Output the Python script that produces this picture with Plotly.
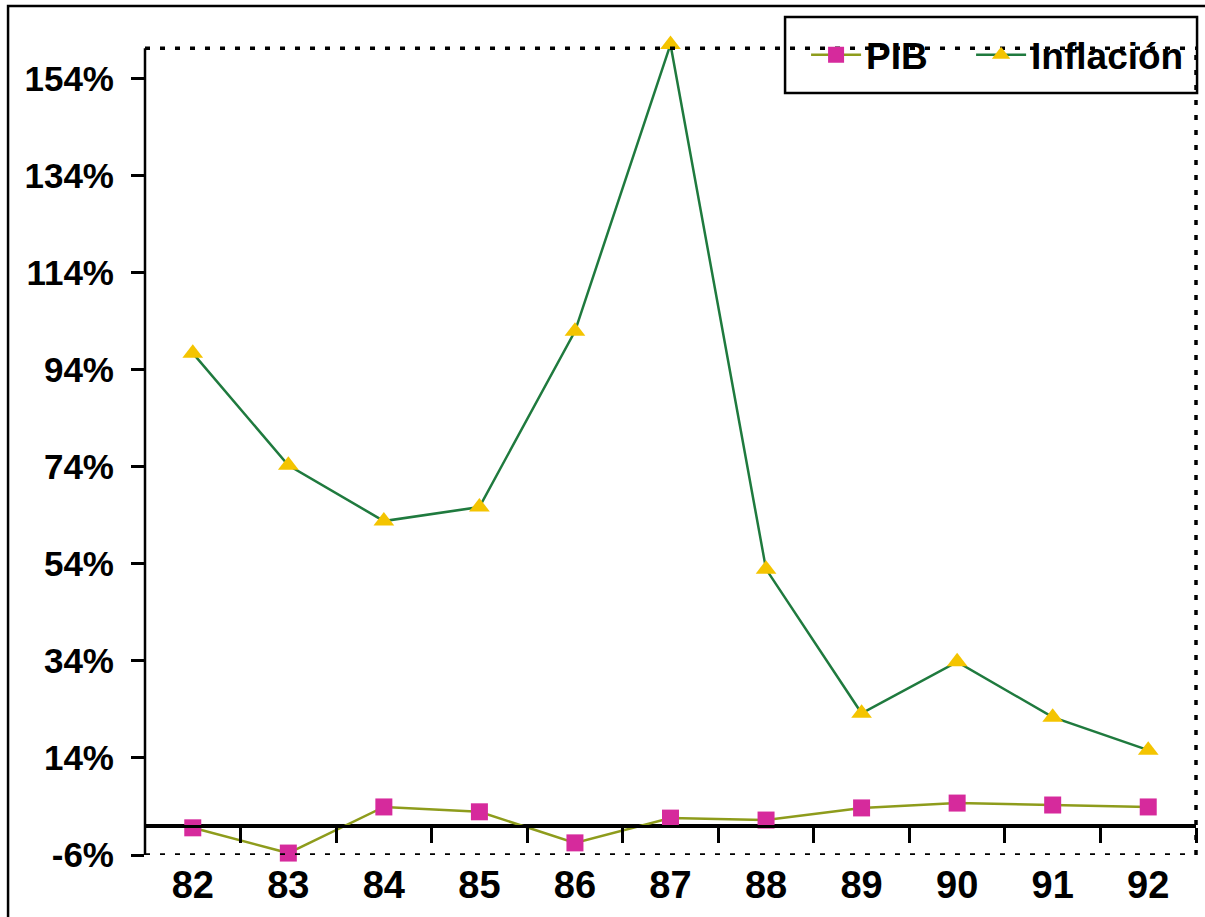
import plotly.graph_objects as go

years = ["82", "83", "84", "85", "86", "87", "88", "89", "90", "91", "92"]
pib = [-0.4, -5.6, 3.9, 2.9, -3.5, 1.6, 1.2, 3.7, 4.7, 4.3, 3.9]
inflacion = [97.4, 74.3, 62.8, 65.7, 101.9, 161.0, 52.9, 23.2, 33.8, 22.4, 15.6]
ytick_vals = [-6, 14, 34, 54, 74, 94, 114, 134, 154]
ytick_text = ["-6%", "14%", "34%", "54%", "74%", "94%", "114%", "134%", "154%"]

FONT = "Liberation Sans, Arial, sans-serif"
Y_MIN, Y_MAX, Y_BORDER = -6, 161.3, 160.2

fig = go.Figure()
fig.add_trace(go.Scatter(
    x=years, y=pib, name="PIB", mode="lines+markers",
    line=dict(color="#8e9c1c", width=2.5),
    marker=dict(symbol="square", size=17, color="#d62a9c"),
    cliponaxis=False, legend="legend",
))
fig.add_trace(go.Scatter(
    x=years, y=inflacion, name="Inflación", mode="lines+markers",
    line=dict(color="#1f7a3e", width=2.5),
    marker=dict(symbol="triangle-up", size=18, color="#f4c400"),
    cliponaxis=False, legend="legend2",
))

dot = dict(color="black", width=3.5, dash="5px,10px")
shapes = [
    # outer frame
    dict(type="rect", xref="paper", yref="paper", x0=-0.1303, x1=1.03, y0=-0.08, y1=1.0456,
         line=dict(color="black", width=2.5), layer="below"),
    # legend box
    dict(type="rect", xref="paper", yref="paper", x0=0.6090, x1=1.0010, y0=0.9384, y1=1.0320,
         line=dict(color="black", width=2.5), fillcolor="white", layer="above"),
    # left solid axis line
    dict(type="line", xref="paper", yref="y", x0=0, x1=0, y0=Y_MIN, y1=Y_BORDER,
         line=dict(color="black", width=2.5)),
    # dotted top, right, bottom borders
    dict(type="line", xref="paper", yref="y", x0=0, x1=1, y0=Y_BORDER, y1=Y_BORDER, line=dot),
    dict(type="line", xref="paper", yref="y", x0=1, x1=1, y0=Y_MIN, y1=Y_BORDER, line=dot),
    dict(type="line", xref="paper", yref="y", x0=0, x1=1, y0=Y_MIN, y1=Y_MIN, line=dot),
]

zero_pos = (0 - Y_MIN) / (Y_MAX - Y_MIN)
legend_font = dict(family=FONT, size=37, color="black", weight="bold")

fig.update_layout(
    width=1205, height=917,
    margin=dict(l=145, r=9, t=43, b=62, autoexpand=False),
    paper_bgcolor="white", plot_bgcolor="white",
    showlegend=True,
    legend=dict(
        orientation="h", x=0.629, xanchor="left", y=0.985, yanchor="middle",
        borderwidth=0, bgcolor="rgba(0,0,0,0)", font=legend_font, itemwidth=50,
    ),
    legend2=dict(
        orientation="h", x=0.786, xanchor="left", y=0.985, yanchor="middle",
        borderwidth=0, bgcolor="rgba(0,0,0,0)", font=legend_font, itemwidth=50,
    ),
    xaxis=dict(
        type="category", range=[-0.5, 10.5], showgrid=False, showline=False,
        zeroline=False, ticks="", ticklabelstandoff=4, automargin=False,
        tickfont=dict(family=FONT, size=38, color="black", weight="bold"),
    ),
    xaxis2=dict(
        overlaying="x", anchor="free", position=zero_pos, range=[-0.5, 10.5],
        showline=True, linecolor="black", linewidth=2.5, showgrid=False, zeroline=False,
        ticks="outside", ticklen=15, tickwidth=2.5, tickcolor="black",
        tickvals=[i + 0.5 for i in range(11)], showticklabels=False, automargin=False,
    ),
    yaxis=dict(
        range=[Y_MIN, Y_MAX], showgrid=False, showline=False,
        zeroline=True, zerolinecolor="black", zerolinewidth=2.5,
        tickvals=ytick_vals, ticktext=ytick_text, automargin=False,
        ticks="outside", ticklen=13, tickwidth=2.5, tickcolor="black",
        ticklabelstandoff=10,
        tickfont=dict(family=FONT, size=35, color="black", weight="bold"),
    ),
    shapes=shapes,
)
# invisible helper trace so the second x-axis is drawn
fig.add_trace(go.Scatter(x=[0], y=[0], xaxis="x2", yaxis="y", mode="markers",
                         marker=dict(opacity=0), showlegend=False, hoverinfo="skip"))

fig.write_html("out.html")
